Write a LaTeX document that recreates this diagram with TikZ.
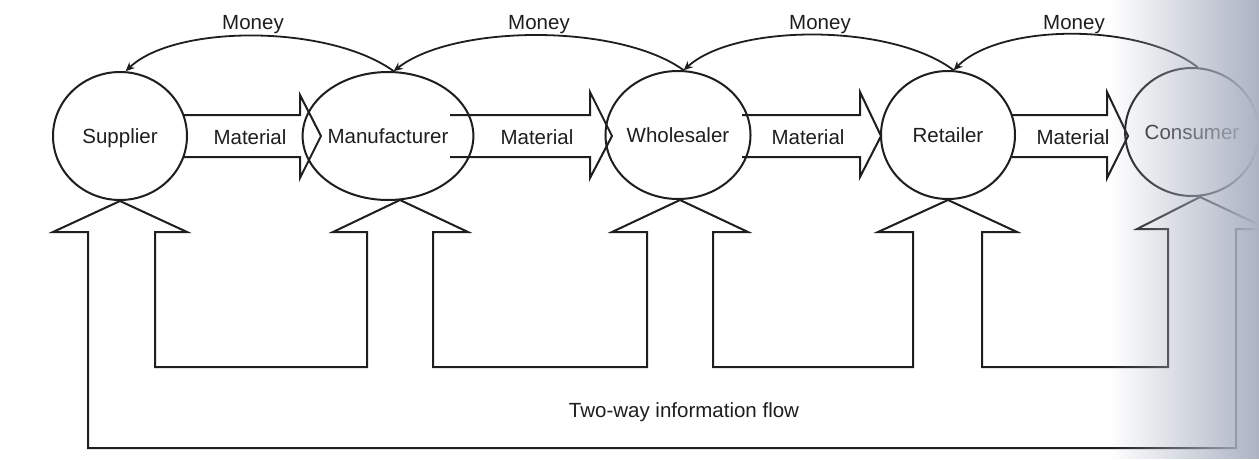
\documentclass[tikz,border=0pt]{standalone}
\usepackage{fontspec}
\setmainfont{Liberation Sans}
\usetikzlibrary{shapes.geometric,arrows.meta,fadings}

\definecolor{ink}{RGB}{30,30,30}
\definecolor{edgegray}{RGB}{172,179,195}

\begin{document}
\begin{tikzpicture}[x=1pt,y=-1pt,line join=miter,
  txt/.style={font=\fontsize{20.5}{24}\selectfont,text=ink,inner sep=0pt},
  party/.style={ellipse,draw=ink,line width=2pt,inner sep=0pt,text depth=0pt,
                minimum width=134pt,minimum height=128pt,
                font=\fontsize{20.5}{24}\selectfont,text=ink},
  outline/.style={draw=ink,line width=2pt},
  moneyflow/.style={draw=ink,line width=1.8pt,-{Stealth[length=9pt,width=8pt]}}]

\useasboundingbox (0,0) rectangle (1259,459);
\fill[white] (0,0) rectangle (1259,459);

% material flow: hollow block arrows between the parties
\draw[outline] (183,115) -- (300,115) -- (300,95) -- (321,136) -- (300,178) -- (300,157) -- (183,157);
\draw[outline] (450,115) -- (590,115) -- (590,92) -- (612,136) -- (590,178) -- (590,157) -- (450,157);
\draw[outline] (742,115) -- (860,115) -- (860,92) -- (881,136) -- (860,177) -- (860,157) -- (742,157);
\draw[outline] (1012,115) -- (1107,115) -- (1107,92) -- (1128,136) -- (1107,178) -- (1107,157) -- (1012,157);

% parties in the chain
\node[party] (sup) at (120,136) {Supplier};
\node[party,minimum width=132pt] (man) at (388,136) {Manufacturer};
\node[party,minimum width=132pt] (whl) at (678,135) {Wholesaler};
\node[party] (ret) at (948,135) {Retailer};
\node[party,minimum width=128pt,minimum height=128pt] (con) at (1192,132) {Consumer};

% material labels
\node[txt,anchor=base] (m1) at (250,144) {Material};
\node[txt,anchor=base] (m2) at (537,144) {Material};
\node[txt,anchor=base] (m3) at (808,144) {Material};
\node[txt,anchor=base] (m4) at (1073,144) {Material};

% money flows back up the chain
\draw[moneyflow] (man.85) .. controls +(-65,-47) and +(49,-47) .. (sup.85);
\draw[moneyflow] (whl.85) .. controls +(-65,-47) and +(60,-47) .. (man.85);
\draw[moneyflow] (ret.85) .. controls +(-62,-47) and +(52,-47) .. (whl.85);
\draw[moneyflow] (con.85) .. controls +(-58,-45) and +(46,-47) .. (ret.85);

\node[txt,anchor=base] (y1) at (253,29) {Money};
\node[txt,anchor=base] (y2) at (539,29) {Money};
\node[txt,anchor=base] (y3) at (820,29) {Money};
\node[txt,anchor=base] (y4) at (1074,29) {Money};

% two-way information flow: linked hollow arrows under every party
\draw[outline]
  (88,448) -- (88,232) -- (53,232) -- (sup.south) -- (187,232) -- (155,232)
  -- (155,367) -- (367,367) -- (367,232) -- (333,232) -- (400,200) -- (468,232) -- (433,232)
  -- (433,367) -- (647,367) -- (647,232) -- (612,232) -- (680,200) -- (748,232) -- (713,232)
  -- (713,367) -- (913,367) -- (913,232) -- (878,232) -- (ret.south) -- (1017,232) -- (982,232)
  -- (982,367) -- (1168,367) -- (1168,229) -- (1137,229) -- (1200,197) -- (1268,229) -- (1236,229)
  -- (1236,448) -- cycle;

\node[txt,anchor=base] (info) at (684,417) {Two-way information flow};

% greyed page edge on the right
\fill[edgegray,path fading=west] (1110,0) rectangle (1259,459);
\end{tikzpicture}
\end{document}
